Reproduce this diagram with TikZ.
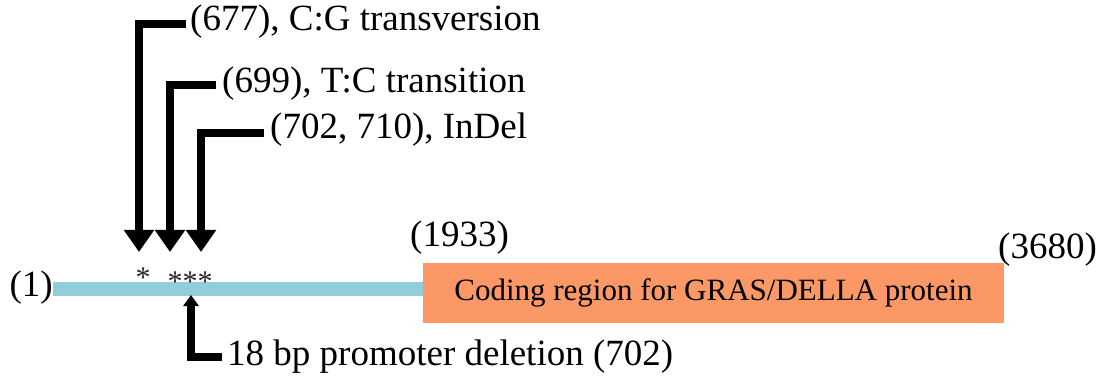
\documentclass[tikz,border=0pt]{standalone}
\usepackage{fontspec}
\setmainfont{Liberation Serif}
\usetikzlibrary{arrows.meta}
\definecolor{promoterblue}{RGB}{146,205,220}
\definecolor{cdsorange}{RGB}{252,152,102}
\begin{document}
\begin{tikzpicture}[x=1pt,y=-1pt,
  lbl/.style={font=\fontsize{37}{40}\selectfont, inner sep=0pt, anchor=west},
  poslbl/.style={font=\fontsize{37}{40}\selectfont, inner sep=0pt},
  star/.style={font=\fontsize{30}{32}\selectfont, inner sep=0pt, text=black!85},
  ptr/.style={line width=8pt, -{Triangle[width=29pt,length=22pt]}},
  ptrsmall/.style={line width=8pt, -{Triangle[width=15pt,length=11pt]}},
  cds/.style={fill=cdsorange, draw=none, minimum width=581pt, minimum height=60pt,
              inner sep=0pt, font=\fontsize{31}{34}\selectfont},
  promoter/.style={promoterblue, line width=14pt}]
\useasboundingbox (0,0) rectangle (1111,382);

% coding sequence and promoter
\node[cds] (cds) at (713.5,293) {Coding region for GRAS/DELLA protein};
\coordinate (pstart) at (53,289);
\draw[promoter] (pstart) -- (pstart -| cds.west);

% position labels
\node[poslbl, anchor=east] (p1) at (53,288) {(1)};
\node[lbl] (p1933) at (410,238) {(1933)};
\node[lbl] (p3680) at (998,250) {(3680)};

% mutation marks
\node[star] (s1) at (143,278) {*};
\node[star] (s2) at (190,282) {***};

% mutation labels and pointers
\node[lbl] (m1) at (190,22) {(677), C:G transversion};
\node[lbl] (m2) at (222,84) {(699), T:C transition};
\node[lbl] (m3) at (270,130) {(702, 710), InDel};
\node[lbl] (m4) at (227,357) {18 bp promoter deletion (702)};

\coordinate (a1) at (186,24);  \coordinate (t1) at (139,252);
\coordinate (a2) at (216,85);  \coordinate (t2) at (170,252);
\coordinate (a3) at (264,133); \coordinate (t3) at (201,252);
\coordinate (b0) at (222,357); \coordinate (bt) at (191,295);

\draw[ptr] (a1) -| (t1);
\draw[ptr] (a2) -| (t2);
\draw[ptr] (a3) -| (t3);
\draw[ptrsmall] (b0) -| (bt);
\end{tikzpicture}
\end{document}
